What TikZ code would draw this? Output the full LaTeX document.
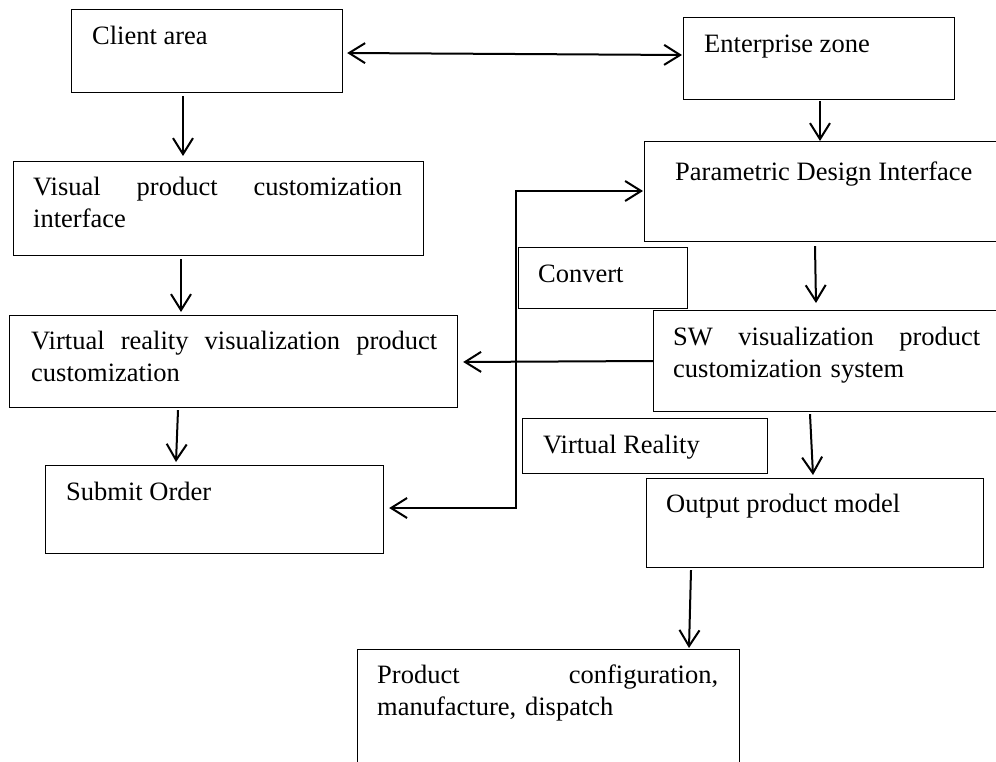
\documentclass[tikz,border=0pt]{standalone}
\usepackage{fontspec}
\setmainfont{Liberation Serif}
\usetikzlibrary{arrows.meta,calc}
\begin{document}
\begin{tikzpicture}[x=1pt,y=-1pt,
  box/.style={draw, line width=1.2pt, inner sep=0pt, anchor=north west},
  txt/.style={inner sep=0pt, anchor=base west, font=\fontsize{26.5}{32}\selectfont},
  jtxt/.style={txt, align=left},
  arr/.style={line width=2pt, -{Straight Barb[length=16pt,width=20pt]}},
  darr/.style={line width=2pt, {Straight Barb[length=16pt,width=20pt]}-{Straight Barb[length=16pt,width=20pt]}}
]
\useasboundingbox (0,0) rectangle (996,762);
\clip (0,0) rectangle (996,762);

% boxes
\node[box, minimum width=271pt, minimum height=83pt]  (client)     at (71,9)   {};
\node[box, minimum width=271pt, minimum height=82pt]  (enterprise) at (683,17) {};
\node[box, minimum width=400pt, minimum height=100pt] (param)      at (644,141) {};
\node[box, minimum width=410pt, minimum height=94pt]  (visual)     at (13,161) {};
\node[box, minimum width=169pt, minimum height=61pt]  (convert)    at (518,247) {};
\node[box, minimum width=448pt, minimum height=92pt]  (vr)         at (9,315)  {};
\node[box, minimum width=400pt, minimum height=101pt] (sw)         at (653,310) {};
\node[box, minimum width=245pt, minimum height=55pt]  (vrl)        at (522,418) {};
\node[box, minimum width=338pt, minimum height=88pt]  (submit)     at (45,465) {};
\node[box, minimum width=337pt, minimum height=89pt]  (output)     at (646,478) {};
\node[box, minimum width=382pt, minimum height=150pt] (product)    at (357,649) {};

% texts
\node[txt] (tclient) at (92,45) {Client area};
\node[txt] (tent) at (704,53) {Enterprise zone};
\node[txt] (tparam) at (675,181) {Parametric Design Interface};
\node[jtxt, text width=369pt] (tvisual) at (33,196) {Visual\hfill product\hfill customization\\interface};
\node[txt] (tconv) at (538,282) {Convert};
\node[jtxt, text width=406pt] (tvr) at (31,349) {Virtual\hfill reality\hfill visualization\hfill product\\customization};
\node[jtxt, text width=307pt] (tsw) at (673,345) {SW\hfill visualization\hfill product\\customization system};
\node[txt] (tvrl) at (543,453) {Virtual Reality};
\node[txt] (tsub) at (66,500) {Submit Order};
\node[txt] (tout) at (666,512) {Output product model};
\node[jtxt, text width=341pt] (tprod) at (377,683) {Product\hfill configuration,\\manufacture, dispatch};

% connectors
\draw[darr] ($(client.north east)+(4,44)$) -- ($(enterprise.north west)+(-1,38)$);
\draw[arr] ($(client.south west)+(112,3)$) -- ($(visual.north west)+(170,-5)$);
\draw[arr] ($(enterprise.south west)+(137,1)$) -- ($(param.north west)+(176,0)$);
\draw[arr] ($(visual.south west)+(168,3)$) -- ($(vr.north west)+(172,-3)$);
\draw[arr] ($(vr.south west)+(169,2)$) -- ($(submit.north west)+(131,-3)$);
\draw[arr] ($(param.south west)+(171,4)$) -- ($(sw.north west)+(163,-7)$);
\draw[arr] ($(sw.north west)+(0,51)$) -- ($(vr.north east)+(5,47)$);
\draw[arr] ($(sw.south west)+(157,2)$) -- ($(output.north west)+(167,-3)$);
\draw[arr] ($(output.south west)+(45,2)$) -- ($(product.north west)+(332,-1)$);
\coordinate (bend) at ($(convert.north west)+(-2,-56)$);
\draw[darr] ($(submit.north east)+(5,43)$) -| (bend) -- ($(param.north west)+(-1,50)$);
\end{tikzpicture}
\end{document}
